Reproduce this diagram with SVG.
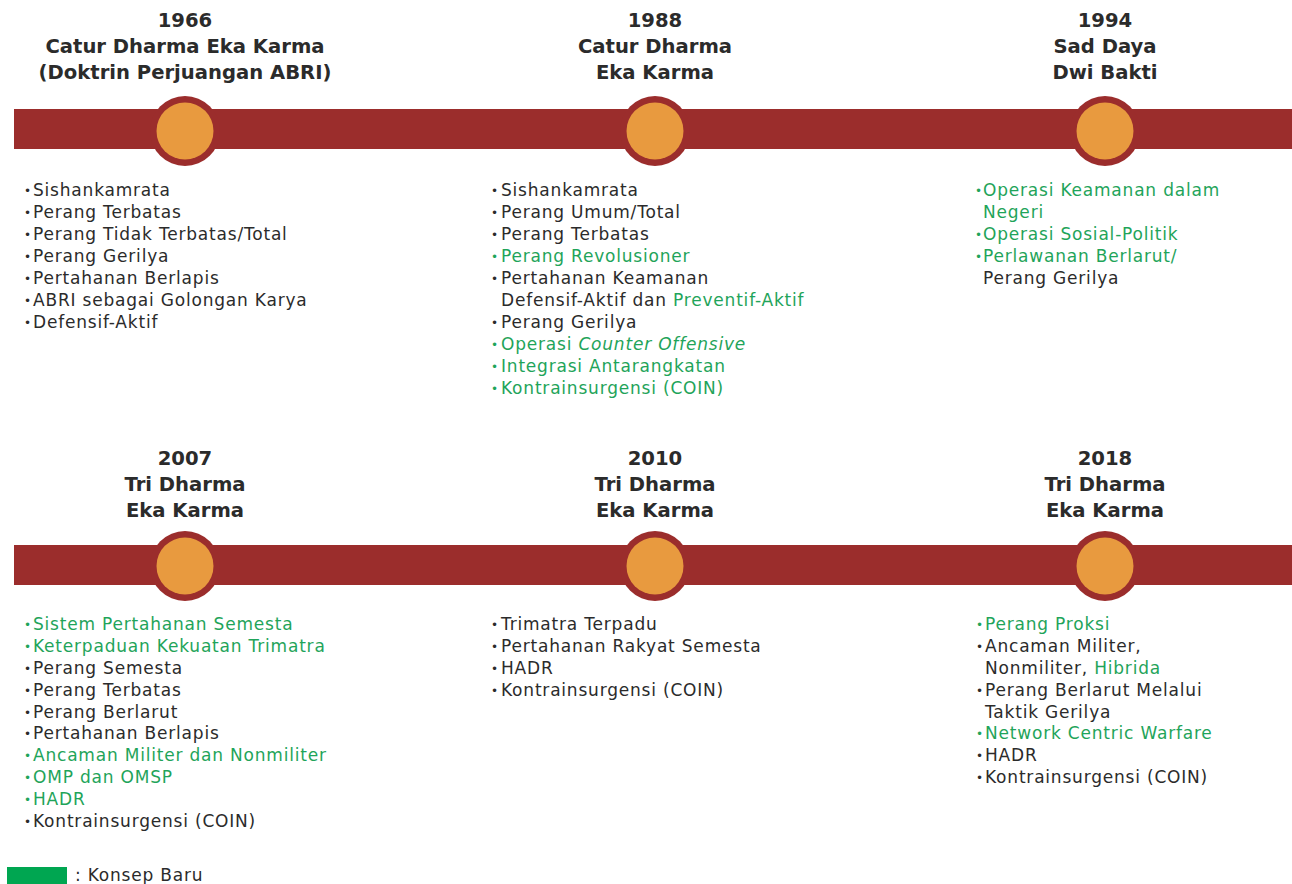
<svg xmlns="http://www.w3.org/2000/svg" width="1292" height="884" viewBox="0 0 1292 884">
<style>
.t{font-family:"DejaVu Sans","Liberation Sans",sans-serif;font-weight:bold;font-size:19.6px;fill:#2b2b2b;text-anchor:middle}
.l{font-family:"DejaVu Sans","Liberation Sans",sans-serif;font-size:17px;letter-spacing:0.8px;fill:#2b2b2b}
.g{fill:#1fa45a}
.b{font-size:12px;letter-spacing:0;baseline-shift:1.5px}
.bar{fill:#9b2d2c}
.ring{fill:#9b2d2c}
.dot{fill:#e89a3f}
</style>
<rect width="1292" height="884" fill="#ffffff"/>
<g id="connectors">
<rect class="bar" x="14" y="109" width="1278" height="40"/>
<rect class="bar" x="14" y="545" width="1278" height="40"/>
</g>
<g id="n1966">
<circle class="ring" cx="185" cy="131" r="35"/><circle class="dot" cx="185" cy="131" r="28.5"/>
<text class="t" x="185" y="27">1966</text>
<text class="t" x="185" y="53">Catur Dharma Eka Karma</text>
<text class="t" x="185" y="79">(Doktrin Perjuangan ABRI)</text>
<text class="l" y="196"><tspan class="b" x="24">•</tspan><tspan x="33">Sishankamrata</tspan></text>
<text class="l" y="218"><tspan class="b" x="24">•</tspan><tspan x="33">Perang Terbatas</tspan></text>
<text class="l" y="240"><tspan class="b" x="24">•</tspan><tspan x="33">Perang Tidak Terbatas/Total</tspan></text>
<text class="l" y="262"><tspan class="b" x="24">•</tspan><tspan x="33">Perang Gerilya</tspan></text>
<text class="l" y="284"><tspan class="b" x="24">•</tspan><tspan x="33">Pertahanan Berlapis</tspan></text>
<text class="l" y="306"><tspan class="b" x="24">•</tspan><tspan x="33">ABRI sebagai Golongan Karya</tspan></text>
<text class="l" y="328"><tspan class="b" x="24">•</tspan><tspan x="33">Defensif-Aktif</tspan></text>
</g>
<g id="n1988">
<circle class="ring" cx="655" cy="131" r="35"/><circle class="dot" cx="655" cy="131" r="28.5"/>
<text class="t" x="655" y="27">1988</text>
<text class="t" x="655" y="53">Catur Dharma</text>
<text class="t" x="655" y="79">Eka Karma</text>
<text class="l" y="196"><tspan class="b" x="491">•</tspan><tspan x="501">Sishankamrata</tspan></text>
<text class="l" y="218"><tspan class="b" x="491">•</tspan><tspan x="501">Perang Umum/Total</tspan></text>
<text class="l" y="240"><tspan class="b" x="491">•</tspan><tspan x="501">Perang Terbatas</tspan></text>
<text class="l g" y="262"><tspan class="b" x="491">•</tspan><tspan x="501">Perang Revolusioner</tspan></text>
<text class="l" y="284"><tspan class="b" x="491">•</tspan><tspan x="501">Pertahanan Keamanan</tspan></text>
<text class="l" x="501" y="306">Defensif-Aktif dan <tspan class="g">Preventif-Aktif</tspan></text>
<text class="l" y="328"><tspan class="b" x="491">•</tspan><tspan x="501">Perang Gerilya</tspan></text>
<text class="l g" y="350"><tspan class="b" x="491">•</tspan><tspan x="501">Operasi <tspan font-style="italic">Counter Offensive</tspan></tspan></text>
<text class="l g" y="372"><tspan class="b" x="491">•</tspan><tspan x="501">Integrasi Antarangkatan</tspan></text>
<text class="l g" y="394"><tspan class="b" x="491">•</tspan><tspan x="501">Kontrainsurgensi (COIN)</tspan></text>
</g>
<g id="n1994">
<circle class="ring" cx="1105" cy="131" r="35"/><circle class="dot" cx="1105" cy="131" r="28.5"/>
<text class="t" x="1105" y="27">1994</text>
<text class="t" x="1105" y="53">Sad Daya</text>
<text class="t" x="1105" y="79">Dwi Bakti</text>
<text class="l g" y="196"><tspan class="b" x="975">•</tspan><tspan x="983">Operasi Keamanan dalam</tspan></text>
<text class="l g" x="983" y="218">Negeri</text>
<text class="l g" y="240"><tspan class="b" x="975">•</tspan><tspan x="983">Operasi Sosial-Politik</tspan></text>
<text class="l g" y="262"><tspan class="b" x="975">•</tspan><tspan x="983">Perlawanan Berlarut/</tspan></text>
<text class="l" x="983" y="284">Perang Gerilya</text>
</g>
<g id="n2007">
<circle class="ring" cx="185" cy="566" r="35"/><circle class="dot" cx="185" cy="566" r="28.5"/>
<text class="t" x="185" y="465">2007</text>
<text class="t" x="185" y="491">Tri Dharma</text>
<text class="t" x="185" y="517">Eka Karma</text>
<text class="l g" y="630"><tspan class="b" x="24">•</tspan><tspan x="33">Sistem Pertahanan Semesta</tspan></text>
<text class="l g" y="652"><tspan class="b" x="24">•</tspan><tspan x="33">Keterpaduan Kekuatan Trimatra</tspan></text>
<text class="l" y="674"><tspan class="b" x="24">•</tspan><tspan x="33">Perang Semesta</tspan></text>
<text class="l" y="696"><tspan class="b" x="24">•</tspan><tspan x="33">Perang Terbatas</tspan></text>
<text class="l" y="718"><tspan class="b" x="24">•</tspan><tspan x="33">Perang Berlarut</tspan></text>
<text class="l" y="739"><tspan class="b" x="24">•</tspan><tspan x="33">Pertahanan Berlapis</tspan></text>
<text class="l g" y="761"><tspan class="b" x="24">•</tspan><tspan x="33">Ancaman Militer dan Nonmiliter</tspan></text>
<text class="l g" y="783"><tspan class="b" x="24">•</tspan><tspan x="33">OMP dan OMSP</tspan></text>
<text class="l g" y="805"><tspan class="b" x="24">•</tspan><tspan x="33">HADR</tspan></text>
<text class="l" y="827"><tspan class="b" x="24">•</tspan><tspan x="33">Kontrainsurgensi (COIN)</tspan></text>
</g>
<g id="n2010">
<circle class="ring" cx="655" cy="566" r="35"/><circle class="dot" cx="655" cy="566" r="28.5"/>
<text class="t" x="655" y="465">2010</text>
<text class="t" x="655" y="491">Tri Dharma</text>
<text class="t" x="655" y="517">Eka Karma</text>
<text class="l" y="630"><tspan class="b" x="491">•</tspan><tspan x="501">Trimatra Terpadu</tspan></text>
<text class="l" y="652"><tspan class="b" x="491">•</tspan><tspan x="501">Pertahanan Rakyat Semesta</tspan></text>
<text class="l" y="674"><tspan class="b" x="491">•</tspan><tspan x="501">HADR</tspan></text>
<text class="l" y="696"><tspan class="b" x="491">•</tspan><tspan x="501">Kontrainsurgensi (COIN)</tspan></text>
</g>
<g id="n2018">
<circle class="ring" cx="1105" cy="566" r="35"/><circle class="dot" cx="1105" cy="566" r="28.5"/>
<text class="t" x="1105" y="465">2018</text>
<text class="t" x="1105" y="491">Tri Dharma</text>
<text class="t" x="1105" y="517">Eka Karma</text>
<text class="l g" y="630"><tspan class="b" x="976">•</tspan><tspan x="985">Perang Proksi</tspan></text>
<text class="l" y="652"><tspan class="b" x="976">•</tspan><tspan x="985">Ancaman Militer,</tspan></text>
<text class="l" x="985" y="674">Nonmiliter, <tspan class="g">Hibrida</tspan></text>
<text class="l" y="696"><tspan class="b" x="976">•</tspan><tspan x="985">Perang Berlarut Melalui</tspan></text>
<text class="l" x="985" y="718">Taktik Gerilya</text>
<text class="l g" y="739"><tspan class="b" x="976">•</tspan><tspan x="985">Network Centric Warfare</tspan></text>
<text class="l" y="761"><tspan class="b" x="976">•</tspan><tspan x="985">HADR</tspan></text>
<text class="l" y="783"><tspan class="b" x="976">•</tspan><tspan x="985">Kontrainsurgensi (COIN)</tspan></text>
</g>
<g id="legend">
<rect x="7" y="867" width="60" height="17" fill="#00a651"/>
<text class="l" x="75" y="881">: Konsep Baru</text>
</g>
</svg>
